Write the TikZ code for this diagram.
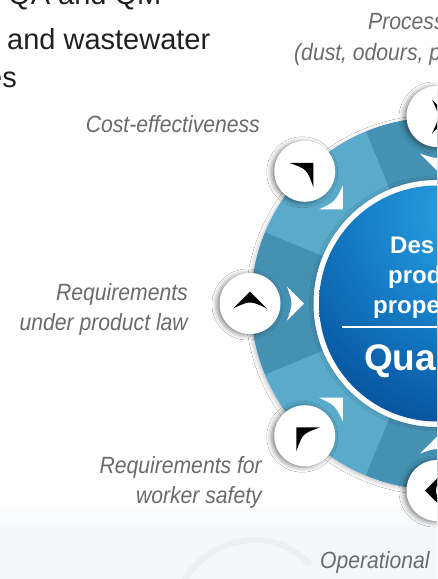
\documentclass[tikz,border=0pt]{standalone}
\usepackage{fontspec}
\setmainfont{Liberation Sans}
\newfontfamily\lblfont[FakeStretch=0.9]{Liberation Sans}
\usetikzlibrary{calc,shadows.blur}
\definecolor{ringlight}{HTML}{5AAACB}
\definecolor{ringdark}{HTML}{4591B3}
\definecolor{lblgrey}{HTML}{6B6B6B}
\definecolor{toptext}{HTML}{231F20}
\definecolor{bgtint}{HTML}{F5F8FA}
\definecolor{bgstreak}{HTML}{EDF0F2}
\definecolor{cbA}{RGB}{48,165,228}
\definecolor{cbB}{RGB}{22,128,200}
\definecolor{cbC}{RGB}{8,84,160}
\definecolor{cbD}{RGB}{2,56,124}
\definecolor{cbE}{RGB}{0,42,100}
\pgfdeclareradialshading{centreblue}{\pgfpoint{0bp}{0bp}}{%
  color(0bp)=(cbA); color(12bp)=(cbB); color(24bp)=(cbC); color(34bp)=(cbD); color(50bp)=(cbE)}
\tikzset{
  lbl/.style={inner sep=0pt, font=\lblfont\itshape\fontsize{23.5}{30}\selectfont, text=lblgrey},
  toplbl/.style={inner sep=0pt, font=\fontsize{29}{37}\selectfont, text=toptext},
  centrelbl/.style={inner sep=0pt, font=\bfseries\fontsize{24}{30}\selectfont, text=white},
  bubble/.style={circle, fill=white, minimum size=61pt, inner sep=0pt,
    blur shadow={shadow xshift=-2.5pt, shadow yshift=-1pt, shadow blur radius=5pt, shadow opacity=50}},
  tipglyph/.pic={\fill[black] (12,0) -- (-5,17) .. controls (3,0) .. (-5,-17) -- cycle;},
  whitetip/.pic={\fill[white] (0,0) -- (-17,17) .. controls (-11,0) .. (-17,-17) -- cycle;}
}
\begin{document}
\begin{tikzpicture}[x=1pt,y=-1pt]
\useasboundingbox (0,0) rectangle (437,579);
\clip (0,0) rectangle (437,579);
\fill[white] (0,0) rectangle (437,579);
% faint background swoosh
\shade[top color=white, bottom color=bgtint] (0,500) rectangle (437,530);
\fill[bgtint] (0,530) rectangle (437,579);
\draw[bgstreak, line width=6pt] (180,590) .. controls (200,540) and (270,520) .. (310,565);

\coordinate (C) at (437,303.5);

% ring with shadow
\fill[ringlight, blur shadow={shadow xshift=-1.5pt, shadow yshift=-1.5pt, shadow blur radius=4pt, shadow opacity=25}] (C) circle (186);
\foreach \a/\col in {-22.5/ringdark, -67.5/ringlight, -112.5/ringdark, -157.5/ringlight,
                     -202.5/ringdark, -247.5/ringlight, -292.5/ringdark, -337.5/ringlight}{
  \fill[\col] (C) -- ++(\a:186) arc[start angle=\a, end angle=\a+45, radius=186] -- cycle;
}

% centre disc
\fill[white, blur shadow={shadow xshift=0pt, shadow yshift=0pt, shadow blur radius=4pt, shadow opacity=30}] (C) circle (123.5);
\begin{scope}
  \clip (C) circle (118);
  \shade[shading=centreblue] (475,210) circle (230);
\end{scope}
\draw[white, line width=2pt] (342,327) -- (437,327);

\node[centrelbl, anchor=base west] (t1) at (390,253) {Des};
\node[centrelbl, anchor=base west] (t2) at (388,283) {prod};
\node[centrelbl, anchor=base west] (t3) at (373,313) {prope};
\node[inner sep=0pt, font=\bfseries\fontsize{37}{40}\selectfont, text=white, anchor=base west] (t4) at (364,370) {Qua};

% white arrow tips pointing to centre
\foreach \phi in {0,45,90,135,180,225,270,315}{
  \pic[rotate=\phi+180] at ($(C)+(-\phi:133)$) {whitetip};
}

% bubbles with glyphs
\node[bubble] (bProc) at ($(C)+(-90:187)$) {};
\node[bubble] (bCost) at ($(C)+(-135:187)$) {};
\node[bubble] (bLaw)  at ($(C)+(-180:187)$) {};
\node[bubble] (bSafe) at ($(C)+(-225:187)$) {};
\node[bubble] (bOper) at ($(C)+(-270:187)$) {};
\pic[rotate=0]   at (bProc) {tipglyph};
\pic[rotate=45]  at (bCost) {tipglyph};
\pic[rotate=90]  at (bLaw)  {tipglyph};
\pic[rotate=135] at (bSafe) {tipglyph};
\pic[rotate=180] at (bOper) {tipglyph};

% labels
\node[lbl, anchor=base west] (lProc1) at (368,29) {Process};
\node[lbl, anchor=base west] (lProc2) at (294,60) {(dust, odours, p};
\node[lbl, anchor=base east] (lCost) at (260,132) {Cost-effectiveness};
\node[lbl, anchor=base east, align=right] (lLaw) at (188,330) {Requirements\\under product law};
\node[lbl, anchor=base east, align=right] (lSafe) at (262,503) {Requirements for\\worker safety};
\node[lbl, anchor=base west] (lOper) at (320,568) {Operational};

% top-left text
\node[toplbl, anchor=base west] (q1) at (8,4) {QA and QM};
\node[toplbl, anchor=base west] (q2) at (7,49) {and wastewater};
\node[toplbl, anchor=base east] (q3) at (17,87) {es};
\end{tikzpicture}
\end{document}
